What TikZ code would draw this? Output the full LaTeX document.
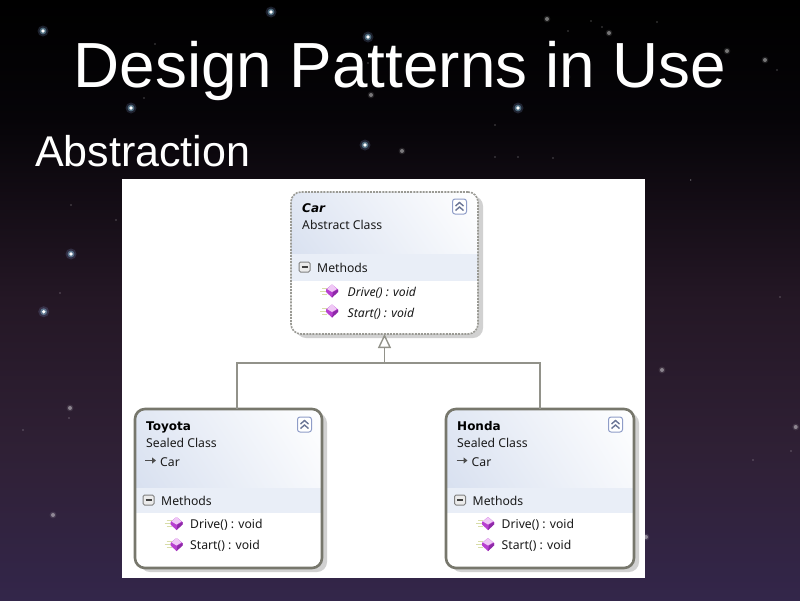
\documentclass[tikz,border=0pt]{standalone}
\usepackage{fontspec}
\setmainfont{Liberation Sans}
\newfontfamily\uifont{Noto Sans}
\newfontfamily\uibfont{DejaVu Sans}
\usetikzlibrary{arrows.meta,shadows,shadings}
\definecolor{bgA}{HTML}{000000}
\definecolor{bgB}{HTML}{060408}
\definecolor{bgC}{HTML}{241725}
\definecolor{bgD}{HTML}{2F2035}
\definecolor{bgE}{HTML}{33264A}
\definecolor{headL}{HTML}{CFD9EC}
\definecolor{headR}{HTML}{F7F9FD}
\definecolor{bandC}{HTML}{E9EEF7}
\definecolor{edgeC}{HTML}{77776C}
\definecolor{dashC}{HTML}{9A9A94}
\definecolor{connC}{HTML}{92928A}
\definecolor{btnC}{HTML}{8F9DC8}
\definecolor{gemC}{HTML}{B83FD0}
\definecolor{gemD}{HTML}{8E2AA8}
\definecolor{gemL}{HTML}{F0C8F6}
\definecolor{lineC}{HTML}{D8DDA8}
\definecolor{textC}{HTML}{1A1A1A}
\pgfdeclareverticalshading{skybg}{100bp}{color(0bp)=(bgE); color(25bp)=(bgE); color(37.5bp)=(bgD); color(50bp)=(bgC); color(65bp)=(bgB); color(75bp)=(bgA); color(100bp)=(bgA)}
\tikzset{
  panel/.style={fill=white,inner sep=0pt,outer sep=0pt,minimum width=523pt,minimum height=399pt},
  classbox/.style n args={2}{rounded corners=10pt,fill=white,inner sep=0pt,outer sep=0pt,
    general shadow={shadow xshift=5pt,shadow yshift=-4pt,fill=black!18},
    path picture={
      \shade[sharp corners,lower left=headL,upper left=headL!55!headR,lower right=headR!80!headL,upper right=white]
        (path picture bounding box.north west) rectangle ([yshift=-#1pt]path picture bounding box.north east);
      \fill[sharp corners,bandC] ([yshift=-#1pt]path picture bounding box.north west) rectangle ([yshift=-#1pt-#2pt]path picture bounding box.north east);
    }},
  solidbox/.style={draw=edgeC,line width=2.6pt},
  dashbox/.style={draw=dashC,line width=1.6pt,dash pattern=on 2pt off 1.1pt},
  conn/.style={draw=connC,line width=1.8pt},
  inherit/.style={conn,-{Triangle[open,length=14pt,width=13pt,line width=1.4pt,fill=white]}},
  titletext/.style={anchor=base west,inner sep=0pt,text=white,font=\fontsize{63.8}{70}\selectfont},
  subtext/.style={anchor=base west,inner sep=0pt,text=white,font=\fontsize{43}{48}\selectfont},
  uitext/.style={anchor=base west,inner sep=0pt,text=textC,font=\uifont\fontsize{12.2}{14}\selectfont},
  uibold/.style={uitext,font=\uibfont\bfseries\fontsize{12}{15}\selectfont,text=black},
  uiital/.style={uitext,font=\uifont\itshape\fontsize{12.2}{14}\selectfont},
  uiboldital/.style={uitext,font=\uibfont\bfseries\itshape\fontsize{12}{15}\selectfont,text=black},
}
% collapse button, methods toggle, method gem, base-class arrow
\newcommand{\chevbtn}[2]{%
  \draw[btnC,fill=white,line width=1pt,rounded corners=2.5pt] (#1-7,#2-7.5) rectangle (#1+7,#2+7.5);
  \draw[btnC!75!black,line width=1.4pt] (#1-4,#2-.5) -- (#1,#2-4) -- (#1+4,#2-.5) (#1-4,#2+4) -- (#1,#2+.5) -- (#1+4,#2+4);}
\newcommand{\minusbtn}[2]{%
  \draw[gray,fill=black!8,line width=1pt,rounded corners=1.5pt] (#1-5.5,#2-5) rectangle (#1+5.5,#2+5);
  \draw[black!75,line width=1.2pt] (#1-3,#2) -- (#1+3,#2);}
\newcommand{\gemicon}[2]{%
  \draw[lineC,line width=.9pt] (#1-10,#2-3) -- (#1-5,#2-3) (#1-12,#2) -- (#1-5,#2) (#1-10,#2+3) -- (#1-5,#2+3);
  \fill[gemC] (#1,#2-6.5) -- (#1+6,#2-1.5) -- (#1+6,#2+1) -- (#1,#2+6.5) -- (#1-6,#2+1) -- (#1-6,#2-1.5) -- cycle;
  \fill[gemD] (#1,#2+6.5) -- (#1+6,#2+1) -- (#1+6,#2-1.5) -- (#1+1,#2+1) -- cycle;
  \fill[gemL] (#1,#2-6.5) -- (#1+5,#2-2) -- (#1,#2+1) -- (#1-5,#2-2) -- cycle;}
\newcommand{\basearrow}[2]{%
  \draw[black!70,line width=1pt,-{Triangle[length=4pt,width=6pt]}] (#1-6,#2) -- (#1+5,#2);}
\newcommand{\brightstar}[2]{%
  \fill[cyan!40!blue!50,opacity=.2] (#1,#2) circle (5.5pt);
  \fill[cyan!40!white,opacity=.4] (#1,#2) circle (3.4pt);
  \fill[white] (#1,#2) circle (1.9pt);}
\newcommand{\dimstar}[2]{%
  \fill[white,opacity=.10] (#1,#2) circle (3.4pt);
  \fill[white,opacity=.4] (#1,#2) circle (2pt);}
\newcommand{\smallstar}[2]{\fill[white,opacity=.6] (#1,#2) circle (.7pt);}
\begin{document}
\begin{tikzpicture}[x=1pt,y=-1pt]
\useasboundingbox (0,0) rectangle (800,600);
\shade[shading=skybg] (0,0) rectangle (800,600);
% stars
\foreach \x/\y in {43/31,131/108,71/254,518/108,43.7/311.7,271/12,368/37,365/145}{\brightstar{\x}{\y}}
\foreach \x/\y in {547/19,609/33,765/60,662/370,646/537,727/51,402/151,371/95,567/77,53/515,70/408,795.7/427}{\dimstar{\x}{\y}}
\foreach \x/\y in {602/27,690.7/180,780/297,71/205,116/220,60/293,155/44,144/98,495/125,518/157,495/157,553/158,591/21,568/31,657/22,777/70,69/418,23/430,791/451,753/460,368/63}{\smallstar{\x}{\y}}
% panel
\node[panel] (sheet) at (383.5,378.5) {};
% class boxes
\node[classbox={62}{27},dashbox,minimum width=187pt,minimum height=142pt] (car) at (384.5,263) {};
\node[classbox={79}{25},solidbox,minimum width=187pt,minimum height=159pt] (toyota) at (228.5,488.5) {};
\node[classbox={79}{25},solidbox,minimum width=188pt,minimum height=159pt] (honda) at (540,488.5) {};
% connectors
\coordinate (joint) at ([yshift=-29pt]car.south);
\draw[inherit] (joint) -- (car.south);
\draw[conn] ([xshift=8.5pt]toyota.north) |- (joint);
\draw[conn] (honda.north) |- (joint);
% car contents
\node[uiboldital] (carname) at (302,212) {Car};
\node[uitext] (carkind) at (302,229) {Abstract Class};
\node[uitext] (carmeth) at (317,272) {Methods};
\node[uiital] (cardrive) at (347.5,296) {Drive() : void};
\node[uiital] (carstart) at (347.5,317) {Start() : void};
\chevbtn{459.5}{206.5}
\minusbtn{304.5}{267}
\gemicon{332}{291}
\gemicon{332}{311}
% toyota contents
\node[uibold] (toyname) at (146,430) {Toyota};
\node[uitext] (toykind) at (146,447) {Sealed Class};
\node[uitext] (toybase) at (160,466) {Car};
\node[uitext] (toymeth) at (161,505) {Methods};
\node[uitext] (toydrive) at (190,528) {Drive() : void};
\node[uitext] (toystart) at (190,549) {Start() : void};
\chevbtn{304.5}{424.5}
\minusbtn{148.5}{500}
\basearrow{151}{460.5}
\gemicon{176.5}{523.5}
\gemicon{176.5}{544.5}
% honda contents
\node[uibold] (honname) at (457,430) {Honda};
\node[uitext] (honkind) at (457,447) {Sealed Class};
\node[uitext] (honbase) at (471.5,466) {Car};
\node[uitext] (honmeth) at (472.5,505) {Methods};
\node[uitext] (hondrive) at (501.5,528) {Drive() : void};
\node[uitext] (honstart) at (501.5,549) {Start() : void};
\chevbtn{615.5}{424.5}
\minusbtn{460}{500}
\basearrow{462.5}{460.5}
\gemicon{488}{523.5}
\gemicon{488}{544.5}
% titles
\node[titletext] (title) at (73.5,87) {Design Patterns in Use};
\node[subtext] (sub) at (35,166) {Abstraction};
\end{tikzpicture}
\end{document}
